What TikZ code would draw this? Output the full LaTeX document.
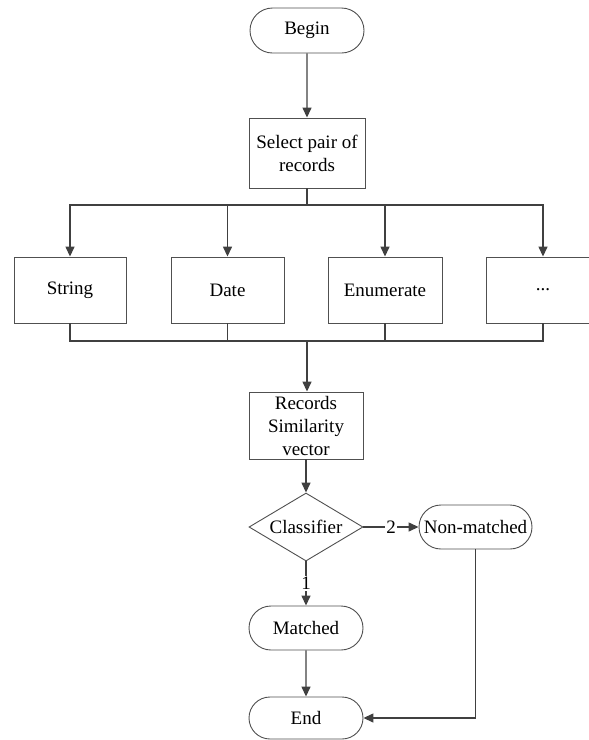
\documentclass[tikz,border=0pt]{standalone}
\usepackage{fontspec}
\setmainfont{Liberation Serif}
\newfontfamily\diagserif{Liberation Serif}
\usetikzlibrary{arrows.meta,shapes.misc,shapes.geometric}
\definecolor{linec}{HTML}{404040}
\definecolor{boxc}{HTML}{505050}
\begin{document}
\begin{tikzpicture}[x=1pt,y=-1pt,
  every node/.style={font=\diagserif\fontsize{19}{23}\selectfont, text=black},
  boxnode/.style={draw=boxc, line width=0.9pt, rectangle, inner sep=0pt, align=center, fill=white},
  termnode/.style={draw=boxc, line width=0.9pt, rounded rectangle, inner sep=0pt, align=center, fill=white},
  decnode/.style={draw=boxc, line width=0.9pt, diamond, inner sep=0pt, aspect=1.68, fill=white},
  conn/.style={draw=linec, line width=1.4pt},
  arr/.style={conn, -{Triangle[length=10pt,width=9pt]}},
  lbl/.style={fill=white, inner sep=1pt}]
\clip (0,0) rectangle (589,740);
\useasboundingbox (0,0) rectangle (589,740);
\node[termnode, minimum width=114pt, minimum height=45pt] (begin) at (307,30.5) {Begin};
\node[boxnode, minimum width=116pt, minimum height=70pt] (select) at (307,153) {Select pair of\\records};
\node[boxnode, minimum width=112pt, minimum height=66pt] (string) at (70,290) {String};
\node[boxnode, minimum width=113pt, minimum height=66pt] (date) at (227.5,290) {Date};
\node[boxnode, minimum width=114pt, minimum height=66pt] (enum) at (385,290) {Enumerate};
\node[boxnode, minimum width=113pt, minimum height=66pt] (dots) at (543,290) {...};
\node[boxnode, minimum width=114pt, minimum height=67pt] (records) at (306,425.5) {Records\\Similarity\\vector};
\node[decnode, minimum width=114pt, minimum height=68pt] (cls) at (306,527) {Classifier};
\node[termnode, minimum width=113pt, minimum height=44pt] (nm) at (475.5,527) {Non-matched};
\node[termnode, minimum width=114pt, minimum height=44pt] (matched) at (306,628) {Matched};
\node[termnode, minimum width=114pt, minimum height=42pt] (end) at (306,718) {End};
\coordinate (split) at (307,205);
\coordinate (join) at (307,341);
\draw[arr] (begin) -- (select);
\draw[conn] (select) -- (split);
\draw[arr] (split) -| (string.north);
\draw[arr] (split) -| (date.north);
\draw[arr] (split) -| (enum.north);
\draw[arr] (split) -| (dots.north);
\draw[conn] (string.south) |- (join);
\draw[conn] (date.south) |- (join);
\draw[conn] (enum.south) |- (join);
\draw[conn] (dots.south) |- (join);
\draw[arr] (join) -- (records.north -| join);
\draw[arr] (records) -- (cls);
\draw[arr] (cls.east) -- node[lbl] {2} (nm.west);
\draw[arr] (cls.south) -- node[lbl] {1} (matched.north);
\draw[arr] (matched) -- (end);
\draw[arr] (nm.south) |- (end.east);
\end{tikzpicture}
\end{document}
